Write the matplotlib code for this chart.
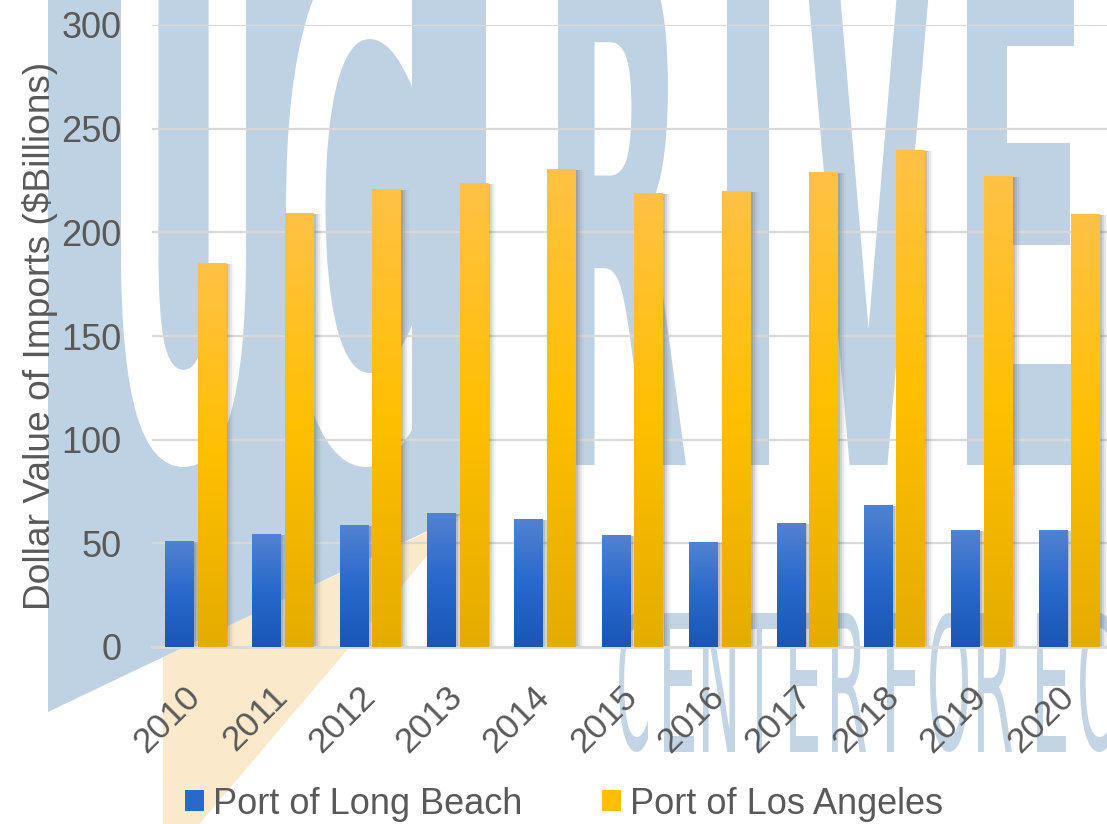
import numpy as np
import matplotlib
matplotlib.use("Agg")
import matplotlib.pyplot as plt
from matplotlib.patches import Polygon, PathPatch, Rectangle
from matplotlib.textpath import TextPath
from matplotlib.font_manager import FontProperties
from matplotlib.transforms import Affine2D, ScaledTranslation, offset_copy
from matplotlib.colors import LinearSegmentedColormap

# ---------------- data ----------------
years = ["2010", "2011", "2012", "2013", "2014", "2015",
         "2016", "2017", "2018", "2019", "2020"]
long_beach = [51.1, 54.5, 58.8, 64.6, 61.6, 54.0, 50.6, 59.7, 68.4, 56.4, 56.4]
los_angeles = [185.0, 209.3, 220.7, 223.6, 230.4, 218.8, 219.8, 228.9, 239.5, 227.1, 208.7]
series_names = ["Port of Long Beach", "Port of Los Angeles"]
y_ticks = [0, 50, 100, 150, 200, 250, 300]
y_label = "Dollar Value of Imports ($Billions)"

# ---------------- style ----------------
W, H = 1107, 824
TEXT = "#595959"
GRID = "#d9d9d9"
WM_BLUE = "#bfd2e3"
WM_BEIGE = "#fbe9cb"
BLUE_STOPS = [(0.0, "#5282d2"), (0.5, "#2869cb"), (1.0, "#1a56b4")]
ORANGE_STOPS = [(0.0, "#ffc246"), (0.5, "#ffbf00"), (1.0, "#e5ac00")]

plt.rcParams["font.family"] = ["Liberation Sans", "DejaVu Sans"]

fig = plt.figure(figsize=(W / 100, H / 100), dpi=100)
fig.patch.set_facecolor("white")

# pixel coords (origin top-left) -> figure
px_tr = Affine2D().scale(1 / W, -1 / H).translate(0, 1) + fig.transFigure
up_tr = Affine2D().scale(1 / W, 1 / H) + fig.transFigure  # pixel coords, origin bottom-left

fp_big = FontProperties(family="DejaVu Sans", weight="bold")
fp_small = FontProperties(family="DejaVu Sans", weight="normal")

# ---------------- watermark (decoration) ----------------
fig.add_artist(Polygon([(163, 657), (461, 516), (190, 835), (163, 835)],
                       closed=True, facecolor=WM_BEIGE, lw=0,
                       transform=px_tr, zorder=-5))
fig.add_artist(Polygon([(48, -5), (486, -5), (486, 503), (48, 712)],
                       closed=True, facecolor=WM_BLUE, lw=0,
                       transform=px_tr, zorder=-4))


def letter(ch, x0, x1, ytop, ybot, color, fp, z):
    tp = TextPath((0, 0), ch, prop=fp, size=1)
    ext = tp.get_extents()
    sx = (x1 - x0) / ext.width
    sy = (ybot - ytop) / ext.height
    t = (Affine2D().translate(-ext.x0, -ext.y0).scale(sx, sy)
         .translate(x0, H - ybot) + up_tr)
    fig.add_artist(PathPatch(tp, facecolor=color, lw=0, transform=t, zorder=z))


# white "UC" knocked out of the blue block
letter("U", 121, 246, -55, 467, "white", fp_big, -3)
letter("C", 286, 412, -55, 467, "white", fp_big, -3)
# blue "RIVE..."
for ch, a, b in [("R", 558, 686), ("I", 727, 769), ("V", 804, 933), ("E", 967, 1076)]:
    letter(ch, a, b, -55, 465, WM_BLUE, fp_big, -3)
# blue "CENTER FOR EC..."
for ch, a, b in [("C", 619, 648), ("E", 664, 694), ("N", 703, 735), ("T", 742, 777),
                 ("E", 790, 818), ("R", 832, 866), ("F", 887, 917), ("O", 930, 968),
                 ("R", 978, 1012), ("E", 1037, 1066), ("C", 1080, 1112)]:
    letter(ch, a, b, 613, 752, "#c3d5e5", fp_small, -3)

# ---------------- axes ----------------
ax = fig.add_axes([152 / W, 1 - 647 / H, (1113 - 152) / W, (647 - 25) / H])
ax.set_facecolor("none")
ax.set_axisbelow(True)

x = np.arange(len(years))
bw = 0.33
off = 0.186
bars_lb = ax.bar(x - off, long_beach, bw, color=BLUE_STOPS[1][1], lw=0, zorder=3,
                 label=series_names[0])
bars_la = ax.bar(x + off, los_angeles, bw, color=ORANGE_STOPS[1][1], lw=0, zorder=3,
                 label=series_names[1])


def grad(stops):
    cm = LinearSegmentedColormap.from_list("g", stops)
    return cm(np.linspace(0, 1, 256))[:, None, :]


g_blue = grad(BLUE_STOPS)
g_orange = grad(ORANGE_STOPS)

for bars, g in [(bars_lb, g_blue), (bars_la, g_orange)]:
    for r in bars:
        x0, w, h = r.get_x(), r.get_width(), r.get_height()
        # soft shadow to the right
        for dx, a in [(2, 0.22), (4, 0.16), (6, 0.10), (8, 0.05)]:
            tr = offset_copy(ax.transData, fig=fig, x=dx, y=-1, units="dots")
            ax.add_patch(Rectangle((x0, 0), w, h, facecolor="#6a6a6a", alpha=a,
                                   lw=0, transform=tr, zorder=2.5))
        ax.imshow(g, extent=(x0, x0 + w, 0, h), origin="upper", aspect="auto",
                  interpolation="bilinear", zorder=3.2)

ax.set_xlim(-0.5, len(years) - 0.5)
ax.set_ylim(0, 300)
ax.set_yticks(y_ticks)
ax.set_yticklabels([str(v) for v in y_ticks])
ax.set_xticks(x)
ax.set_xticklabels(years)

ax.yaxis.grid(True, color=GRID, lw=1.6)
ax.xaxis.grid(False)
for s in ["top", "right", "left"]:
    ax.spines[s].set_visible(False)
ax.spines["bottom"].set_color(GRID)
ax.spines["bottom"].set_linewidth(2)

ax.tick_params(axis="y", length=0, pad=22, labelsize=26, labelcolor=TEXT)
ax.tick_params(axis="x", length=0, pad=37, labelsize=25.5, labelcolor=TEXT)
for lab in ax.get_xticklabels():
    lab.set_rotation(45)
    lab.set_ha("right")
    lab.set_va("baseline")
    lab.set_rotation_mode("anchor")
    lab.set_transform(lab.get_transform() + ScaledTranslation(6 / 100, 0, fig.dpi_scale_trans))

ax.set_ylabel(y_label, fontsize=26.7, color=TEXT)
ax.yaxis.set_label_coords((58 - 152) / (1113 - 152), 0.5)

handles = [Rectangle((0, 0), 1, 1, facecolor=BLUE_STOPS[1][1], lw=0),
           Rectangle((0, 0), 1, 1, facecolor=ORANGE_STOPS[1][1], lw=0)]
fig.legend(handles, series_names, loc="center", bbox_to_anchor=(564 / W, 1 - 804 / H),
           ncol=2, frameon=False, fontsize=26, labelcolor=TEXT,
           handlelength=0.53, handleheight=0.53, handletextpad=0.25,
           columnspacing=2.2, borderpad=0, borderaxespad=0)

fig.savefig("out.png", dpi=100, facecolor="white")
